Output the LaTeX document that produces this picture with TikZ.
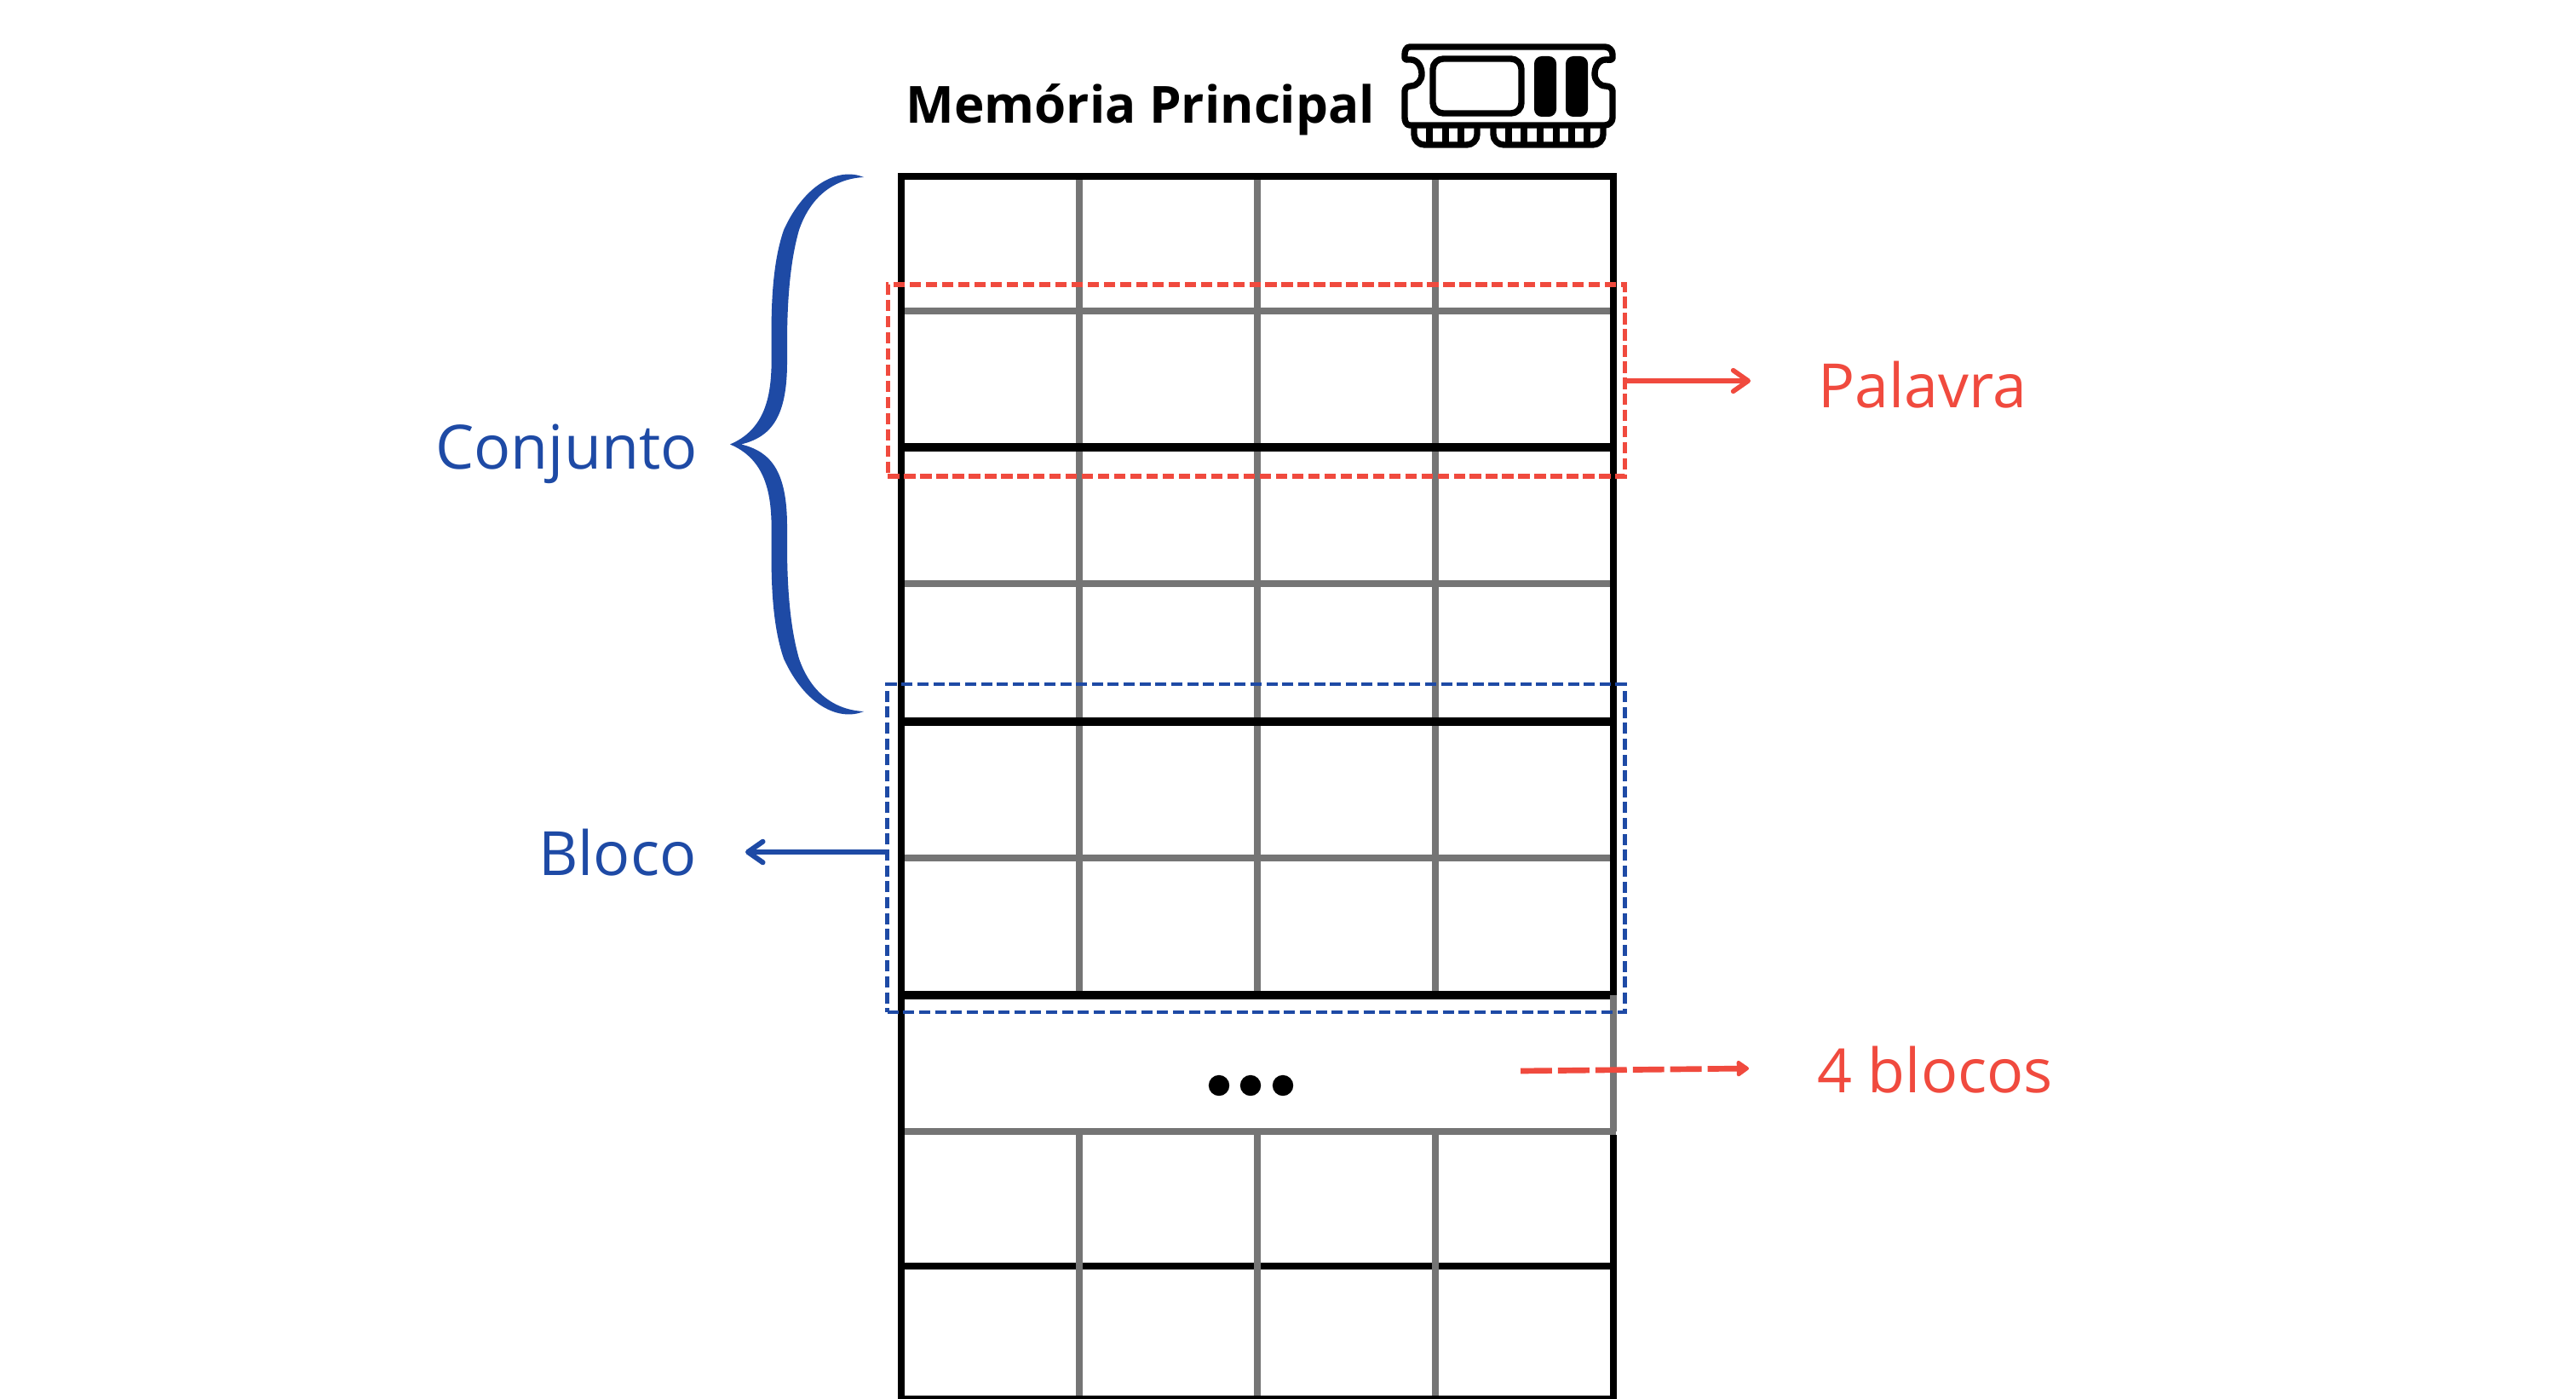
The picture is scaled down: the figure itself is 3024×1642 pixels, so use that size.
\documentclass[tikz,border=0pt]{standalone}
\usepackage{fontspec}
\setmainfont{Open Sans}
\usepackage{xcolor}
\usetikzlibrary{arrows.meta}
\definecolor{setblue}{HTML}{1E4AA5}
\definecolor{wordred}{HTML}{F04A3E}
\definecolor{cellgray}{HTML}{757575}
\tikzset{
  thinline/.style={cellgray, line width=4.5pt},
  setline/.style={black, line width=5.7pt},
  frameline/.style={black, line width=4.3pt},
  wordbox/.style={draw=wordred, line width=3pt, dash pattern=on 7.6pt off 3.2pt, minimum width=492.5pt, minimum height=128pt, inner sep=0pt},
  blockbox/.style={draw=setblue, line width=2.7pt, dash pattern=on 7.4pt off 3.2pt, minimum width=492.5pt, minimum height=219pt, inner sep=0pt},
  bluearrow/.style={setblue, line width=3.4pt, line cap=round, -{Straight Barb[round, length=10pt, width=14pt]}},
  redarrow/.style={wordred, line width=3.2pt, -{Straight Barb[round, length=10pt, width=14pt]}},
  bluelabel/.style={setblue, font=\fontsize{40.8}{48}\selectfont, anchor=base west, inner sep=0pt},
  redlabel/.style={wordred, font=\fontsize{40.8}{48}\selectfont, anchor=base west, inner sep=0pt},
  titlelabel/.style={font=\fontsize{34.2}{40}\selectfont\bfseries, anchor=base west, inner sep=0pt}
}
\newcommand{\ramicon}{
\draw[black, line width=4.2pt, line join=round, fill=white] (1655,55) -- (1884,55) to[out=0, in=90] (1893,64) -- (1893,68) to[out=270, in=0] (1885,70) to[out=180, in=90] (1872,87) to[out=270, in=180] (1885,101) to[out=0, in=90] (1893,107) -- (1893,138) to[out=270, in=0] (1884,147) -- (1655,147) to[out=180, in=270] (1649,138) -- (1649,107) to[out=90, in=180] (1656,101) to[out=0, in=270] (1669,87) to[out=90, in=0] (1656,70) to[out=180, in=270] (1649,68) -- (1649,64) to[out=90, in=180] (1655,55) -- cycle;
\draw[black, line width=4.2pt, rounded corners=7pt] (1682,69) rectangle (1786,133);
\foreach \barx in {1801,1838} \fill[black, rounded corners=5pt] (\barx,66) rectangle ++(26,71);
\draw[black, line width=4.2pt, rounded corners=7pt] (1660,147) -- (1660,170) -- (1734,170) -- (1734,147);
\draw[black, line width=4.2pt, rounded corners=7pt] (1753,147) -- (1753,170) -- (1882,170) -- (1882,147);
\foreach \pinx in {1678,1697,1715,1771,1789,1808,1827,1845,1863} \draw[black, line width=4.2pt] (\pinx,147) -- (\pinx,170);
}
\begin{document}
\begin{tikzpicture}[x=0.02cm, y=-0.02cm]
\useasboundingbox (0,0) rectangle (3024,1642);
\draw[frameline] (1058,1486) -- (1894,1486);
\foreach \cellx in {1267,1476,1685} {
\draw[thinline] (\cellx,207) -- (\cellx,1167);
\draw[thinline] (\cellx,1328) -- (\cellx,1642);
}
\foreach \rowy in {365,685,1007} \draw[thinline] (1058,\rowy) -- (1894,\rowy);
\foreach \rowy in {525,847,1168} \draw[setline] (1058,\rowy) -- (1894,\rowy);
\draw[thinline] (1058,1328) -- (1897,1328);
\draw[frameline] (1058,1642) -- (1058,207) -- (1894,207) -- (1894,1168);
\draw[thinline] (1894,1168) -- (1894,1328);
\draw[frameline] (1894,1332) -- (1894,1642) -- (1058,1642);
\foreach \dotx in {1431,1468,1506} \fill[black] (\dotx,1274) circle (12.2);
\node[titlelabel] (title) at (1063,145) {Memória Principal};
\ramicon
\node[wordbox] (wordframe) at (1475,446.5) {};
\node[blockbox] (blockframe) at (1474.5,995.5) {};
\node[bluelabel] (conjunto) at (511,550) {Conjunto};
\node[bluelabel] (bloco) at (632,1027) {Bloco};
\node[redlabel] (palavra) at (2134,478) {Palavra};
\node[redlabel] (blocos) at (2133,1282) {4 blocos};
\coordinate (blocotip) at (875,1000);
\coordinate (palavratip) at (2055,447);
\coordinate (blocostart) at (1785,1257);
\coordinate (blocosend) at (2053,1254);
\draw[bluearrow] (blockframe.west |- blocotip) -- (blocotip);
\draw[redarrow] (wordframe.east |- palavratip) -- (palavratip);
\draw[redarrow, line width=3.8pt, dash pattern=on 21pt off 4pt, -{Triangle[round, length=9pt, width=12pt]}] (blocostart) -- (blocosend);
\fill[setblue] (1014,208) .. controls (985,196) and (945,215) .. (920,270) .. controls (908,305) and (905,350) .. (905.6,403) .. controls (906,445) and (908,500) .. (857,521.5) .. controls (908,543) and (906,598) .. (905.6,640) .. controls (905,693) and (908,738) .. (920,773) .. controls (945,828) and (985,847) .. (1014,835) .. controls (975,833) and (950,808) .. (938,773) .. controls (928,738) and (924,693) .. (924,640) -- (924,618) .. controls (924,553) and (905,530) .. (870,521.5) .. controls (905,513) and (924,490) .. (924,425) -- (924,403) .. controls (924,350) and (928,305) .. (938,270) .. controls (950,235) and (975,210) .. (1014,208) -- cycle;
\end{tikzpicture}
\end{document}
